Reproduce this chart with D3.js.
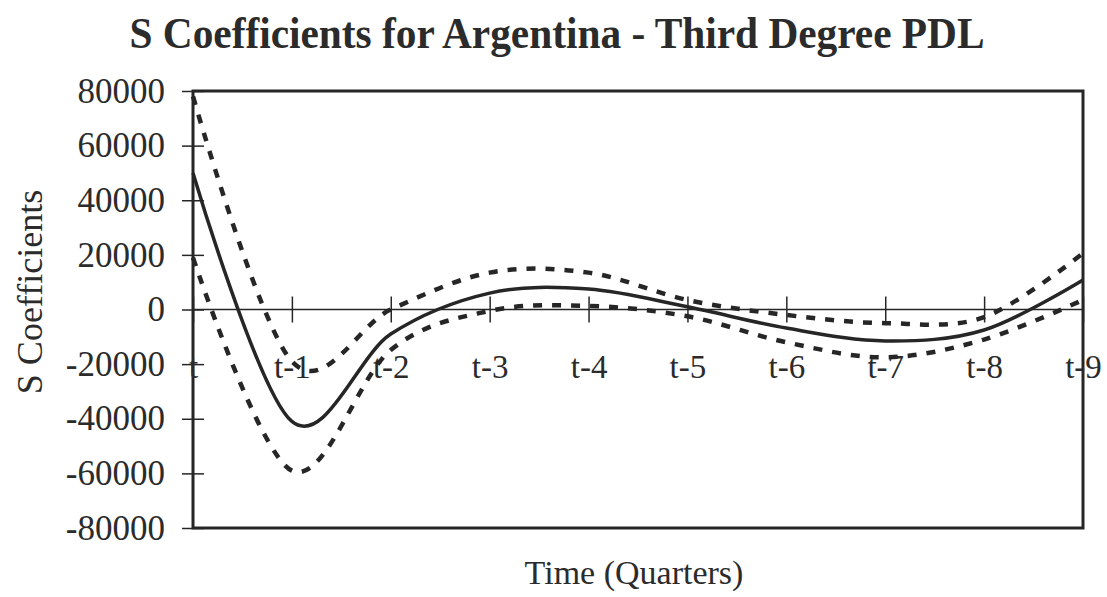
<!DOCTYPE html>
<html>
<head>
<meta charset="utf-8">
<script src="https://cdn.jsdelivr.net/npm/d3@7"></script>
<style>
  body { margin: 0; background: #fff; }
  text { font-family: "Liberation Serif", "Times New Roman", serif; fill: #2b2b2b; }
</style>
</head>
<body>
<svg id="chart" width="1107" height="597"></svg>
<script>
// categories and series
const lags = ["t", "t-1", "t-2", "t-3", "t-4", "t-5", "t-6", "t-7", "t-8", "t-9"];
const coef  = [50000, -41000, -9000, 6000, 7500, 1000, -6800, -11500, -7500, 10800];
const upper = [78000, -19000, 0, 13500, 13500, 3500, -2000, -5000, -2800, 20600];
const lower = [19000, -59000, -14800, -500, 1300, -2500, -12000, -17500, -11000, 3500];
const yTicks = [80000, 60000, 40000, 20000, 0, -20000, -40000, -60000, -80000];

const svg = d3.select("#chart");
const margin = {left: 193, right: 24, top: 91, bottom: 69};
const width = 1107 - margin.left - margin.right,
  height = 597 - margin.top - margin.bottom;

const x = d3.scalePoint().domain(lags).range([0, width]);
const y = d3.scaleLinear().domain([-80000, 80000]).range([height, 0]);

const ink = "#262626";

// title
svg.append("text")
  .attr("x", 557).attr("y", 48)
  .attr("text-anchor", "middle")
  .attr("font-size", 44)
  .attr("font-weight", "bold")
  .attr("textLength", 855)
  .attr("lengthAdjust", "spacingAndGlyphs")
  .text("S Coefficients for Argentina - Third Degree PDL");

const g = svg.append("g").attr("transform", `translate(${margin.left},${margin.top})`);

// frame
g.append("rect")
  .attr("width", width).attr("height", height)
  .attr("fill", "none").attr("stroke", ink).attr("stroke-width", 3);

// y axis with crossing ticks
const yAxis = g.append("g").call(d3.axisLeft(y).tickValues(yTicks).tickSize(11).tickPadding(17).tickFormat(d => String(d)));
yAxis.select(".domain").remove();
yAxis.selectAll(".tick line").attr("x2", 11).attr("x1", -11).attr("stroke", ink).attr("stroke-width", 1.5);
yAxis.selectAll(".tick text").attr("font-size", 35).attr("fill", ink).attr("font-family", "Liberation Serif");

// zero line with category ticks
g.append("line")
  .attr("x1", 0).attr("x2", width)
  .attr("y1", y(0)).attr("y2", y(0))
  .attr("stroke", ink).attr("stroke-width", 1.5);

const xAxis = g.append("g").attr("transform", `translate(0,${y(0)})`)
  .call(d3.axisBottom(x).tickSize(0).tickPadding(0));
xAxis.select(".domain").remove();
xAxis.selectAll(".tick").append("line")
  .attr("y1", -13).attr("y2", 13)
  .attr("stroke", ink).attr("stroke-width", 1.5);
xAxis.selectAll(".tick text")
  .attr("dy", 0).attr("y", 68)
  .attr("font-size", 33).attr("fill", ink).attr("font-family", "Liberation Serif");

// series
const line = d3.line()
  .x((d, i) => x(lags[i]))
  .y(d => y(d))
  .curve(d3.curveCardinal.tension(0));

g.append("path").datum(upper)
  .attr("d", line).attr("fill", "none")
  .attr("stroke", ink).attr("stroke-width", 4.5)
  .attr("stroke-dasharray", "9,10");

g.append("path").datum(lower)
  .attr("d", line).attr("fill", "none")
  .attr("stroke", ink).attr("stroke-width", 4.5)
  .attr("stroke-dasharray", "9,10");

g.append("path").datum(coef)
  .attr("d", line).attr("fill", "none")
  .attr("stroke", ink).attr("stroke-width", 3.5);

// axis titles
svg.append("text")
  .attr("transform", "translate(42,292) rotate(-90)")
  .attr("text-anchor", "middle")
  .attr("font-size", 36)
  .text("S Coefficients");

svg.append("text")
  .attr("x", 634).attr("y", 584)
  .attr("text-anchor", "middle")
  .attr("font-size", 34)
  .text("Time (Quarters)");
</script>
</body>
</html>
